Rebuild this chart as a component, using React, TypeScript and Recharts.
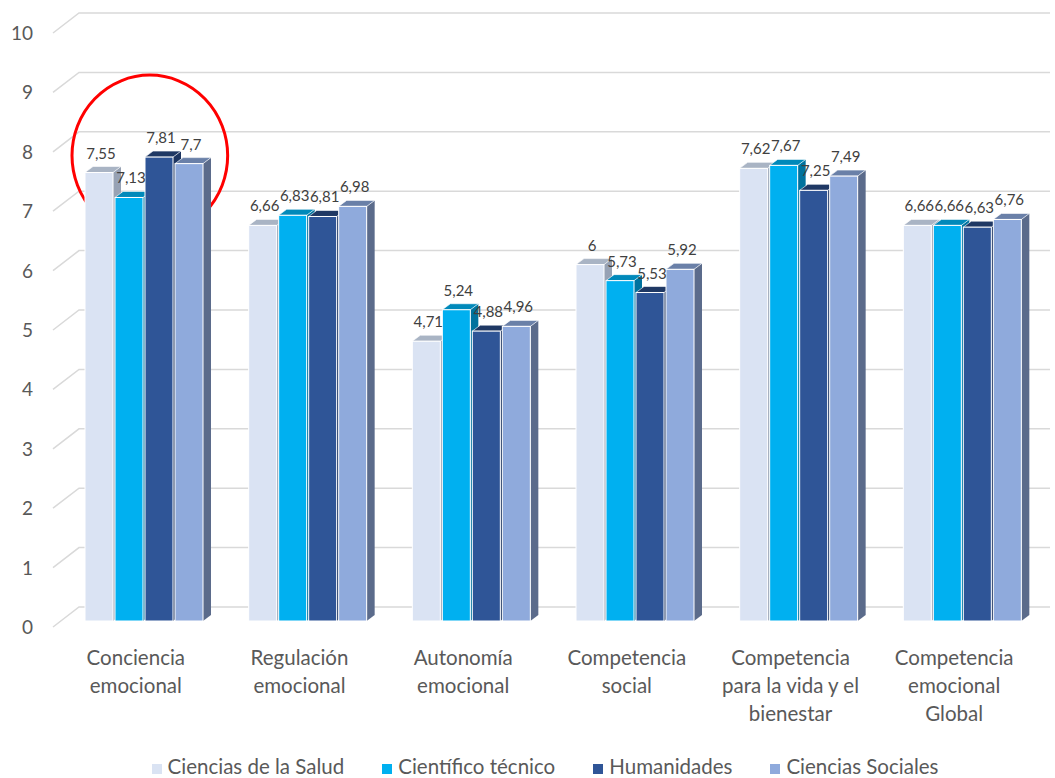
import {
  BarChart,
  Bar,
  XAxis,
  YAxis,
  CartesianGrid,
  Legend,
  LabelList,
  ReferenceArea,
} from 'recharts';

const categories = [
  'Conciencia emocional',
  'Regulación emocional',
  'Autonomía emocional',
  'Competencia social',
  'Competencia para la vida y el bienestar',
  'Competencia emocional Global',
];

const categoryLines = [
  ['Conciencia', 'emocional'],
  ['Regulación', 'emocional'],
  ['Autonomía', 'emocional'],
  ['Competencia', 'social'],
  ['Competencia', 'para la vida y el', 'bienestar'],
  ['Competencia', 'emocional', 'Global'],
];

const cienciasSalud = [7.55, 6.66, 4.71, 6, 7.62, 6.66];
const cientificoTecnico = [7.13, 6.83, 5.24, 5.73, 7.67, 6.66];
const humanidades = [7.81, 6.81, 4.88, 5.53, 7.25, 6.63];
const cienciasSociales = [7.7, 6.98, 4.96, 5.92, 7.49, 6.76];

const yTicks = [0, 1, 2, 3, 4, 5, 6, 7, 8, 9, 10];

const FONT = 'Lato, "Open Sans", sans-serif';
const DEPTH_X = 8;
const DEPTH_Y = 6;

const series = [
  { key: 'salud', name: 'Ciencias de la Salud', values: cienciasSalud, front: '#DAE3F3', top: '#A9B4C4', side: '#97A2B4' },
  { key: 'tecnico', name: 'Científico técnico', values: cientificoTecnico, front: '#00B0F0', top: '#0089BA', side: '#00729E' },
  { key: 'humanidades', name: 'Humanidades', values: humanidades, front: '#2F5597', top: '#1F3864', side: '#1C3460' },
  { key: 'sociales', name: 'Ciencias Sociales', values: cienciasSociales, front: '#8FAADC', top: '#6A80A8', side: '#5B6B8B' },
];

const data = categories.map((name, i) => {
  const row: Record<string, string | number> = { name };
  series.forEach((s) => {
    row[s.key] = s.values[i];
  });
  return row;
});

// 3D-looking bar: front face plus a slanted top and right side
function makeBox(top: string, side: string) {
  return (props: any) => {
    const { x, y, width, height, fill } = props;
    if (height == null || width == null) return null;
    const r = x + width;
    const b = y + height;
    return (
      <g>
        <polygon
          points={`${r},${y} ${r + DEPTH_X},${y - DEPTH_Y} ${r + DEPTH_X},${b - DEPTH_Y} ${r},${b}`}
          fill={side}
        />
        <polygon
          points={`${x},${y} ${x + DEPTH_X},${y - DEPTH_Y} ${r + DEPTH_X},${y - DEPTH_Y} ${r},${y}`}
          fill={top}
          stroke="#ffffff"
          strokeWidth={0.6}
        />
        <rect x={x} y={y} width={width} height={height} fill={fill} stroke="#ffffff" strokeWidth={1} />
      </g>
    );
  };
}

const formatValue = (v: number) => String(v).replace('.', ',');

function ValueLabel(props: any) {
  const { x, y, width, value } = props;
  return (
    <text
      x={x + width / 2 + 2}
      y={y - 14}
      textAnchor="middle"
      fill="#404040"
      fontSize={15}
      fontFamily={FONT}
    >
      {formatValue(value)}
    </text>
  );
}

function CategoryTick(props: any) {
  const { x, y, index } = props;
  const lines = categoryLines[index] ?? [];
  return (
    <text x={x - 8} y={y + 36} textAnchor="middle" fill="#595959" fontSize={20.5} fontFamily={FONT}>
      {lines.map((l, i) => (
        <tspan key={i} x={x - 8} dy={i === 0 ? 0 : 28}>
          {l}
        </tspan>
      ))}
    </text>
  );
}

function ValueTick(props: any) {
  const { y, payload } = props;
  return (
    <text x={33} y={y + 13} textAnchor="end" fill="#595959" fontSize={19} fontFamily={FONT}>
      {payload.value}
    </text>
  );
}

// back-wall gridline: short diagonal at the left, then flat across
function GridLine(props: any) {
  const { x1, x2, y1 } = props;
  return (
    <path
      d={`M${x1 - 9},${y1 + 6} L${x1 + 17},${y1 - 14} L${x2 + 6},${y1 - 14}`}
      stroke="#D9D9D9"
      strokeWidth={1.5}
      fill="none"
    />
  );
}

function LegendContent() {
  return (
    <div
      style={{
        display: 'flex',
        justifyContent: 'center',
        gap: 38,
        fontFamily: FONT,
        fontSize: 20.5,
        lineHeight: '25px',
        color: '#595959',
        paddingTop: 16,
        paddingLeft: 46,
      }}
    >
      {series.map((s) => (
        <div key={s.key} style={{ display: 'flex', alignItems: 'center' }}>
          <span style={{ width: 10, height: 10, background: s.front, marginRight: 6, marginTop: 4, display: 'inline-block' }} />
          <span>{s.name}</span>
        </div>
      ))}
    </div>
  );
}

function Highlight(props: any) {
  const { x, y, width, height } = props;
  return (
    <ellipse
      cx={x + width / 2 + 6}
      cy={y + height / 2}
      rx={width / 2 - 4}
      ry={height / 2}
      fill="none"
      stroke="#FF0000"
      strokeWidth={3}
    />
  );
}

export default function App() {
  return (
    <div style={{ position: 'absolute', left: 0, top: 0, background: '#ffffff' }}>
      <BarChart
        width={1055}
        height={778}
        data={data}
        margin={{ top: 27, right: 11, left: 0, bottom: 0 }}
        barSize={28}
        barGap={2}
      >
        <CartesianGrid vertical={false} horizontal={(p: any) => <GridLine key={p.key ?? p.index} {...p} />} />
        <XAxis
          dataKey="name"
          axisLine={false}
          tickLine={false}
          height={117}
          interval={0}
          tick={<CategoryTick />}
        />
        <YAxis
          domain={[0, 10]}
          ticks={yTicks}
          width={62}
          axisLine={false}
          tickLine={false}
          tick={<ValueTick />}
        />
        <Legend verticalAlign="bottom" height={40} content={<LegendContent />} />
        {series.map((s) => (
          <Bar
            key={s.key}
            dataKey={s.key}
            name={s.name}
            fill={s.front}
            shape={makeBox(s.top, s.side)}
            isAnimationActive={false}
          >
            <LabelList dataKey={s.key} content={<ValueLabel />} />
          </Bar>
        ))}
        <ReferenceArea
          x1={categories[0]}
          x2={categories[0]}
          y1={6.48}
          y2={9.19}
          ifOverflow="visible"
          shape={<Highlight />}
        />
      </BarChart>
    </div>
  );
}
